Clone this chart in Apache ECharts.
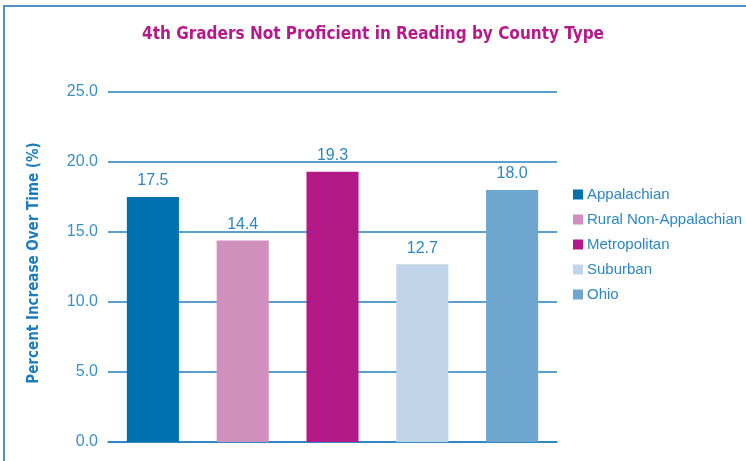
<!DOCTYPE html>
<html>
<head>
<meta charset="utf-8">
<script src="https://cdn.jsdelivr.net/npm/echarts@6/dist/echarts.min.js"></script>
<style>
    html, body { margin: 0; padding: 0; background: #fff; }
    #frame {
        position: absolute; left: 3px; top: 5px; width: 743px; height: 456px;
        border-left: 2px solid #4d94c9; border-top: 2px solid #4d94c9;
        box-sizing: border-box;
    }
    #main { position: absolute; left: 0; top: 0; width: 746px; height: 461px; }
</style>
</head>
<body>
<div id="frame"></div>
<div id="main"></div>
<script>
// 数据
const categories = ['Appalachian', 'Rural Non-Appalachian', 'Metropolitan', 'Suburban', 'Ohio'];
const values = [17.5, 14.4, 19.3, 12.7, 18.0];
const barColors = ['#0071ae', '#d08fbc', '#b31a88', '#c0d5e9', '#6fa6cf'];
const yTicks = { min: 0, max: 25, interval: 5 };

let myChart = echarts.init(document.getElementById('main'));

// 每个类别一个系列，便于图例显示
let series = categories.map((name, i) => ({
    name: name,
    type: 'bar',
    stack: 'all',
    barWidth: '58%',
    itemStyle: { color: barColors[i] },
    label: {
        show: true,
        position: 'top',
        distance: 8,
        color: '#2d87c2',
        fontSize: 16,
        fontFamily: 'Liberation Sans',
        formatter: p => p.value.toFixed(1)
    },
    data: categories.map((c, j) => (j === i ? values[i] : '-'))
}));

myChart.setOption({
    animation: false,
    backgroundColor: 'transparent',
    title: {
        text: '4th Graders Not Proficient in Reading by County Type',
        left: 'center',
        top: 21,
        textStyle: {
            color: '#b5198a',
            fontSize: 17,
            fontWeight: 'bold',
            fontFamily: 'DejaVu Sans Condensed'
        }
    },
    legend: {
        orient: 'vertical',
        left: 568,
        top: 182,
        itemWidth: 10,
        itemHeight: 10,
        itemGap: 10,
        icon: 'rect',
        textStyle: { color: '#2d87c2', fontSize: 15, fontFamily: 'Liberation Sans', padding: [0, 0, 0, -1] },
        data: categories
    },
    grid: { left: 108, right: 189, top: 92, bottom: 19 },
    xAxis: {
        type: 'category',
        data: categories,
        axisLine: { show: true, lineStyle: { color: '#2280bd', width: 1.5 } },
        axisTick: { show: false },
        axisLabel: { show: false }
    },
    yAxis: {
        type: 'value',
        min: yTicks.min,
        max: yTicks.max,
        interval: yTicks.interval,
        name: 'Percent Increase Over Time (%)',
        nameLocation: 'middle',
        nameGap: 66,
        nameTextStyle: {
            color: '#1b7dbd',
            fontSize: 15,
            fontWeight: 'bold',
            fontFamily: 'DejaVu Sans Condensed',
            padding: [0, 0, 0, 8]
        },
        axisLine: { show: false },
        axisTick: { show: false },
        splitLine: { lineStyle: { color: '#2280bd', width: 1.5 } },
        axisLabel: {
            margin: 10,
            color: '#3a90c6',
            fontSize: 16,
            fontFamily: 'Liberation Sans',
            formatter: v => v.toFixed(1)
        }
    },
    series: series
});
</script>
</body>
</html>
